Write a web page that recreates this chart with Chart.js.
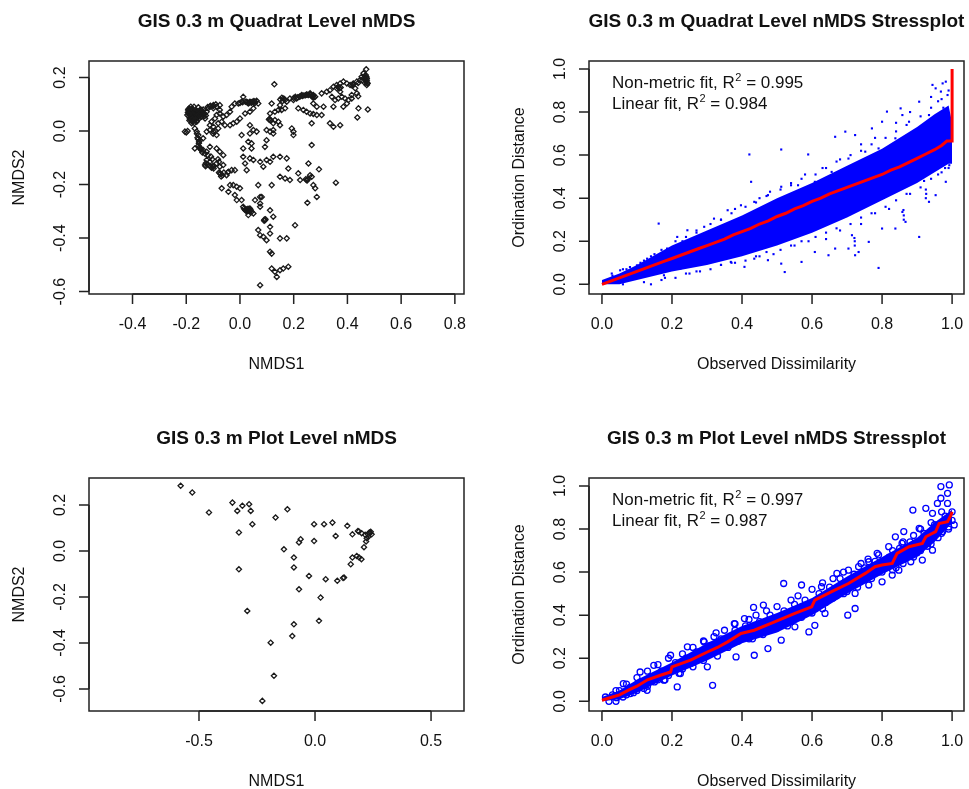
<!DOCTYPE html>
<html>
<head>
<meta charset="utf-8">
<script src="https://cdn.jsdelivr.net/npm/chart.js@4.4.0/dist/chart.umd.min.js"></script>
<style>
  html, body { margin: 0; padding: 0; background: #fff; width: 969px; height: 789px; overflow: hidden; position: relative; }
  canvas { position: absolute; }
</style>
</head>
<body>
<canvas id="quadratNmds" width="500" height="417" style="left:0;top:0"></canvas>
<canvas id="quadratStress" width="500" height="417" style="left:500px;top:0"></canvas>
<canvas id="plotNmds" width="500" height="417" style="left:0;top:417px"></canvas>
<canvas id="plotStress" width="500" height="417" style="left:500px;top:417px"></canvas>
<script>
// ---- data ----

// quadrat level site scores [NMDS1, NMDS2]
const quadratPoints = [
  [-0.193,0.079],[-0.186,0.066],[-0.180,0.072],[-0.174,0.079],[-0.168,0.060],[-0.161,0.072],[-0.155,0.066],
  [-0.149,0.079],[-0.143,0.054],[-0.137,0.060],[-0.130,0.047],[-0.186,0.047],[-0.174,0.041],[-0.161,0.035],
  [-0.180,0.029],[-0.124,0.072],[-0.118,0.085],[-0.112,0.091],[-0.099,0.085],[-0.087,0.091],[-0.075,0.097],
  [-0.106,0.035],[-0.093,0.047],[-0.087,0.060],[-0.075,0.066],[-0.062,0.054],[-0.050,0.060],[-0.037,0.072],
  [-0.031,0.091],[-0.019,0.103],[-0.006,0.103],[0.006,0.110],[0.012,0.128],[0.025,0.110],[0.037,0.110],
  [0.056,0.110],[0.068,0.103],[0.050,0.085],[0.037,0.072],[0.019,0.066],[0.000,0.047],[-0.012,0.035],
  [-0.025,0.029],[-0.037,0.022],[-0.056,0.022],[-0.068,0.035],[-0.081,0.029],[-0.099,0.016],[-0.112,0.022],
  [-0.189,0.085],[-0.183,0.091],[-0.171,0.091],[-0.155,0.089],[-0.143,0.079],[-0.137,0.081],[-0.168,0.051],
  [-0.152,0.047],[-0.196,0.060],[-0.177,0.066],[0.031,0.103],[0.043,0.106],[0.062,0.113],[-0.099,0.097],
  [-0.075,0.079],
  [-0.190,0.070],[-0.185,0.075],[-0.178,0.083],[-0.172,0.070],[-0.165,0.080],[-0.158,0.062],[-0.150,0.070],
  [-0.145,0.062],[-0.140,0.070],[-0.132,0.066],[-0.127,0.058],[-0.190,0.055],[-0.183,0.052],[-0.176,0.058],
  [-0.170,0.050],[-0.163,0.045],[-0.157,0.052],[-0.150,0.058],[-0.188,0.040],[-0.178,0.035],[-0.170,0.030],
  [-0.160,0.040],
  [-0.192,0.082],[-0.188,0.078],[-0.184,0.080],[-0.181,0.076],[-0.176,0.075],[-0.172,0.078],[-0.168,0.072],
  [-0.164,0.070],[-0.160,0.066],[-0.156,0.070],[-0.152,0.074],[-0.147,0.068],[-0.142,0.065],[-0.138,0.062],
  [-0.134,0.055],[-0.187,0.062],[-0.183,0.058],[-0.179,0.062],[-0.175,0.064],[-0.171,0.060],[-0.167,0.056],
  [-0.163,0.058],[-0.159,0.056],[-0.154,0.060],[-0.186,0.045],[-0.181,0.042],[-0.176,0.046],[-0.172,0.040],
  [-0.166,0.042],[-0.194,0.070],[-0.190,0.064],
  [0.028,0.107],[0.034,0.106],[0.046,0.110],[0.052,0.112],[0.232,0.131],[0.238,0.133],[0.244,0.134],
  [0.250,0.136],[-0.156,-0.030],[-0.153,-0.045],[-0.150,-0.060],[-0.147,-0.065],[-0.127,-0.120],
  [-0.120,-0.125],[-0.112,-0.130],[-0.106,-0.137],[0.024,-0.293],[0.033,-0.296],[0.040,-0.295],
  [0.466,0.195],[0.470,0.185],[0.471,0.202],[0.465,0.180],
  [-0.120,0.090],[-0.110,0.095],[-0.100,0.093],[-0.090,0.100],[0.000,0.105],[0.010,0.108],[0.020,0.110],
  [0.040,0.108],[0.050,0.108],[0.055,0.104],[0.150,0.118],[0.158,0.112],[0.165,0.120],[0.200,0.124],
  [0.215,0.126],[0.225,0.130],[0.255,0.135],[0.262,0.137],[0.270,0.130],[0.275,0.126],[0.440,0.180],
  [0.455,0.190],[0.462,0.200],[0.468,0.210],[0.472,0.190],[0.474,0.180],[0.360,0.160],[0.365,0.165],
  [0.420,0.175],[0.418,0.170],
  [-0.205,-0.002],[-0.168,0.010],[-0.161,-0.002],[-0.155,-0.015],[-0.149,-0.034],[-0.137,-0.027],[-0.124,-0.002],
  [-0.112,0.004],[-0.099,-0.002],[-0.087,-0.015],[-0.081,0.010],[-0.168,-0.065],[-0.149,-0.065],[-0.137,-0.071],
  [-0.124,-0.077],[-0.112,-0.059],[-0.087,-0.065],[-0.075,-0.077],[-0.062,-0.090],[-0.124,-0.108],[-0.112,-0.115],
  [-0.099,-0.133],[-0.087,-0.121],[-0.075,-0.133],[-0.062,-0.127],[-0.075,-0.158],[-0.043,-0.152],[-0.031,-0.146],
  [-0.019,-0.146],[-0.050,-0.165],[-0.037,-0.202],[-0.025,-0.202],[-0.012,-0.208],[0.000,-0.214],[-0.068,-0.214],
  [-0.043,-0.227],[-0.019,-0.239],[-0.012,-0.258],[0.006,-0.258],[0.012,-0.283],[0.025,-0.296],[0.037,-0.289],
  [0.043,-0.302],[0.031,-0.314],[0.050,-0.308],[0.056,-0.258],[0.075,-0.246],[0.075,-0.283],[0.093,-0.333],
  [0.112,-0.296],[0.124,-0.320],[0.068,-0.370],[0.075,-0.389],[0.087,-0.395],[0.099,-0.408],[0.112,-0.358],
  [0.112,-0.383],[0.149,-0.401],[0.174,-0.401],[0.112,-0.451],[0.118,-0.458],[0.118,-0.514],[0.130,-0.526],
  [0.137,-0.545],[0.149,-0.520],[0.161,-0.514],[0.180,-0.507],[0.075,-0.576],[0.205,-0.352],
  [-0.130,-0.127],[-0.128,-0.131],[-0.078,-0.155],[-0.072,-0.160],[0.021,-0.297],[0.027,-0.300],[0.091,-0.331],
  [-0.160,-0.010],[-0.158,-0.025],[-0.152,-0.040],[-0.155,-0.055],[-0.145,-0.070],[-0.140,-0.080],[-0.130,-0.085],
  [-0.120,-0.090],[-0.108,-0.095],[-0.103,-0.105],[-0.100,-0.130],[-0.098,-0.140],[-0.082,-0.105],[-0.078,-0.115],
  [-0.070,-0.170],[-0.065,-0.165],[-0.060,-0.155],[-0.045,-0.155],[-0.100,-0.010],[-0.092,0.000],
  [0.020,-0.295],[0.030,-0.290],[0.035,-0.300],[0.015,-0.290],[0.090,-0.335],[0.095,-0.330],[0.245,-0.180],
  [0.250,-0.185],[0.110,0.045],[0.115,0.040],[-0.200,-0.005],[-0.195,0.000],
  [0.037,0.022],[0.050,0.004],[0.037,-0.009],[0.062,-0.002],[0.006,-0.015],[0.031,-0.040],[0.043,-0.046],
  [0.099,-0.034],[0.093,-0.059],[0.112,-0.002],[0.124,0.004],[0.124,0.029],[0.112,0.041],[0.108,0.043],
  [0.130,0.041],[0.143,0.035],[0.149,0.022],[0.118,0.103],[0.112,0.066],[0.130,0.072],[0.143,0.079],
  [0.155,0.079],[0.168,0.085],[0.149,0.097],[0.174,0.110],[0.186,0.122],[0.199,0.116],[0.211,0.122],
  [0.230,0.135],[0.248,0.137],[0.261,0.141],[0.273,0.135],[0.280,0.128],[0.161,0.122],[0.168,0.116],
  [0.156,0.125],[0.206,0.128],[0.221,0.128],[0.266,0.132],[0.270,0.127],
  [0.217,0.085],[0.236,0.079],[0.248,0.072],[0.261,0.066],[0.273,0.064],[0.286,0.060],[0.304,0.060],
  [0.286,0.091],[0.311,0.091],[0.273,0.103],[0.304,0.141],[0.323,0.147],[0.335,0.153],[0.348,0.166],
  [0.360,0.172],[0.373,0.178],[0.385,0.185],[0.398,0.178],[0.410,0.172],[0.422,0.178],[0.435,0.185],
  [0.447,0.191],[0.453,0.203],[0.460,0.216],[0.470,0.231],[0.472,0.197],[0.472,0.172],[0.468,0.205],
  [0.342,0.128],[0.354,0.116],[0.366,0.122],[0.379,0.128],[0.391,0.122],[0.404,0.116],[0.416,0.122],
  [0.385,0.091],[0.398,0.103],[0.416,0.135],[0.435,0.141],[0.429,0.160],[0.335,0.029],[0.348,0.016],
  [0.373,0.022],[0.437,0.051],[0.441,0.085],[0.476,0.081],[0.373,0.147],[0.348,0.091],[0.128,0.175],
  [0.370,0.160],[0.375,0.163],[0.440,0.130],[0.475,0.178],
  [0.124,-0.009],[0.099,-0.108],[0.124,-0.096],[0.149,-0.096],[0.174,-0.102],[0.075,-0.115],[0.087,-0.133],
  [0.112,-0.115],[0.180,-0.140],[0.149,-0.171],[0.168,-0.177],[0.186,-0.183],[0.217,-0.158],[0.224,-0.183],
  [0.248,-0.183],[0.252,-0.180],[0.261,-0.165],[0.255,-0.121],[0.267,-0.171],[0.273,-0.202],[0.280,-0.214],
  [0.286,-0.246],[0.294,-0.143],[0.251,-0.268],[0.357,-0.193],[0.068,-0.202],[0.118,-0.202],[0.081,-0.246],
  [0.075,-0.271],[0.025,-0.146],[0.037,-0.102],[0.050,-0.108],[0.012,-0.096],[0.019,-0.121],[0.012,-0.065],
  [0.043,-0.065],[0.099,0.004],[0.193,0.010],[0.199,-0.002],[0.199,-0.015],[0.267,-0.052],[0.267,0.029]
];

// plot level site scores [NMDS1, NMDS2]
const plotPoints = [
  [-0.579,0.283],[-0.529,0.254],[-0.457,0.167],[-0.356,0.210],[-0.335,0.174],[-0.313,0.196],[-0.284,0.203],
  [-0.277,0.174],[-0.270,0.116],[-0.328,0.080],[-0.328,-0.080],[-0.292,-0.261],[-0.170,0.145],[-0.119,0.181],
  [-0.134,0.007],[-0.091,-0.029],[-0.091,-0.072],[-0.069,0.037],[-0.062,0.051],[-0.004,0.116],[-0.004,0.043],
  [0.039,0.116],[0.075,0.123],[0.089,0.065],[0.139,0.109],[0.161,0.072],[0.185,0.087],[0.189,0.084],
  [0.201,0.077],[0.216,0.070],[0.223,0.055],[0.220,0.041],[0.211,0.016],[0.234,0.080],[0.240,0.083],
  [0.244,0.072],[0.230,0.062],[0.236,0.076],[0.228,0.072],[0.161,-0.029],[0.180,-0.022],[0.190,-0.029],
  [0.200,-0.036],[0.154,-0.058],[0.125,-0.116],[0.121,-0.118],[0.096,-0.130],[0.046,-0.123],[-0.026,-0.109],
  [-0.069,-0.167],[0.024,-0.203],[0.017,-0.304],[-0.091,-0.319],[-0.098,-0.370],[-0.191,-0.399],
  [-0.177,-0.543],[-0.227,-0.652]
];

// quadrat stressplot: dense band of observed vs ordination distances
const quadratBandX     = [0, 0.05, 0.1, 0.2, 0.3, 0.4, 0.5, 0.6, 0.7, 0.8, 0.9, 0.95, 0.99, 1.0];
const quadratBandUpper = [0.02, 0.05, 0.09, 0.18, 0.25, 0.32, 0.40, 0.47, 0.55, 0.63, 0.73, 0.79, 0.83, 0.75];
const quadratBandLower = [0, 0, 0.02, 0.06, 0.09, 0.13, 0.18, 0.24, 0.31, 0.39, 0.47, 0.52, 0.56, 0.56];

// quadrat stressplot: scattered distances around the dense band
const quadratScatter = [
  [0.162,0.282],[0.421,0.603],[0.512,0.626],[0.426,0.476],[0.589,0.603],[0.666,0.685],[0.695,0.709],
  [0.723,0.693],[0.771,0.724],[0.800,0.755],[0.814,0.802],[0.853,0.817],[0.858,0.786],[0.906,0.848],
  [0.944,0.926],[0.953,0.910],[0.968,0.895],[0.973,0.933],[0.982,0.941],[0.987,0.879],[0.934,0.786],
  [0.877,0.755],[0.838,0.678],[0.790,0.631],[0.752,0.616],[0.704,0.584],[0.656,0.522],[0.608,0.476],
  [0.560,0.460],[0.512,0.453],[0.474,0.414],[0.435,0.383],[0.397,0.367],[0.359,0.344],[0.320,0.305],
  [0.292,0.267],[0.244,0.251],[0.215,0.220],[0.186,0.166],[0.129,0.119],[0.100,0.088],[0.052,0.065],
  [0.028,0.050],[0.407,0.081],[0.435,0.119],[0.474,0.112],[0.512,0.096],[0.522,0.057],[0.570,0.104],
  [0.608,0.150],[0.647,0.135],[0.666,0.166],[0.704,0.166],[0.714,0.228],[0.723,0.135],[0.733,0.150],
  [0.762,0.197],[0.790,0.076],[0.800,0.259],[0.838,0.259],[0.858,0.336],[0.867,0.290],[0.906,0.220],
  [0.934,0.383],[0.953,0.414],[0.982,0.476],[0.992,0.553],[0.292,0.150],[0.330,0.135],[0.368,0.104],
  [0.224,0.073],[0.177,0.042],[0.722,0.180],[0.722,0.200],[0.721,0.215],[0.862,0.300],[0.862,0.320],
  [0.861,0.345],[0.925,0.400],[0.926,0.420],[0.925,0.440],[0.980,0.700],[0.990,0.760],[0.975,0.820],
  [0.960,0.850],[0.940,0.870],[0.880,0.800],[0.840,0.750],[0.780,0.680],[0.740,0.650],[0.680,0.580],
  [0.630,0.540],[0.580,0.510],[0.540,0.470],[0.480,0.430],[0.450,0.400],[0.380,0.350],[0.340,0.300],
  [0.270,0.240],[0.230,0.200],[0.150,0.140],[0.120,0.110],[0.080,0.080],[0.060,0.070],
  [0.060,0.000],[0.120,0.010],[0.180,0.030],[0.250,0.050],[0.280,0.060],[0.340,0.090],[0.380,0.100],
  [0.450,0.130],[0.490,0.140],[0.550,0.180],[0.590,0.200],[0.640,0.210],[0.680,0.250],[0.740,0.280],
  [0.780,0.330],[0.820,0.350],[0.880,0.420],[0.920,0.480],[0.960,0.510],[0.990,0.570],[0.980,0.540],
  [0.03,0.04],[0.07,0.07],[0.11,0.10],[0.14,0.13],[0.17,0.16],[0.21,0.20],[0.24,0.22],[0.27,0.25],
  [0.31,0.28],[0.34,0.30],[0.37,0.33],[0.41,0.36],[0.44,0.38],[0.47,0.41],[0.51,0.44],[0.54,0.46],
  [0.57,0.49],[0.61,0.51],[0.64,0.54],[0.67,0.57],[0.71,0.60],[0.74,0.62],[0.77,0.65],[0.81,0.68],
  [0.84,0.71],[0.87,0.74],[0.91,0.78],[0.94,0.82],[0.97,0.86],[0.99,0.90],
  [0.14,0.00],[0.17,0.02],[0.21,0.03],[0.24,0.05],[0.27,0.06],[0.31,0.07],[0.34,0.09],[0.37,0.10],
  [0.41,0.11],[0.44,0.13],[0.47,0.15],[0.51,0.16],[0.54,0.18],[0.57,0.20],[0.61,0.22],[0.64,0.24],
  [0.67,0.26],[0.71,0.28],[0.74,0.31],[0.77,0.33],[0.81,0.36],[0.84,0.39],[0.87,0.42],[0.91,0.45],
  [0.94,0.49],[0.97,0.52],[0.99,0.54]
];

// quadrat stressplot: monotone (non-metric) fit
const quadratFit = [
  [0,0],[0.025,0.015],[0.05,0.03],[0.075,0.045],[0.1,0.06],[0.125,0.075],[0.15,0.09],[0.175,0.105],
  [0.2,0.12],[0.225,0.135],[0.25,0.15],[0.275,0.165],[0.3,0.18],[0.325,0.195],[0.35,0.21],[0.375,0.23],
  [0.4,0.245],[0.425,0.26],[0.45,0.28],[0.475,0.295],[0.5,0.315],[0.525,0.33],[0.55,0.35],[0.575,0.365],
  [0.6,0.385],[0.625,0.4],[0.65,0.42],[0.675,0.435],[0.7,0.45],[0.725,0.465],[0.75,0.48],[0.775,0.495],
  [0.8,0.51],[0.825,0.53],[0.85,0.545],[0.875,0.565],[0.9,0.585],[0.925,0.605],[0.95,0.625],[0.97,0.645],
  [0.985,0.665],[1.0,0.665],[1.0,1.0]
];

// plot stressplot: dense core of the circles
const plotBandX     = [0, 0.05, 0.1, 0.2, 0.3, 0.4, 0.5, 0.6, 0.7, 0.8, 0.9, 0.95, 1.0];
const plotBandUpper = [0.02, 0.05, 0.10, 0.18, 0.27, 0.35, 0.41, 0.48, 0.58, 0.67, 0.76, 0.83, 0.89];
const plotBandLower = [0, 0.01, 0.04, 0.12, 0.19, 0.27, 0.32, 0.40, 0.50, 0.59, 0.67, 0.74, 0.83];

// plot stressplot: individual distances (open circles)
const plotScatter = [
  [0.968,0.997],[0.992,1.005],[0.987,0.966],[0.968,0.943],[0.987,0.919],[0.958,0.919],[0.888,0.888],
  [0.925,0.896],[0.944,0.873],[0.906,0.803],[0.862,0.788],[0.838,0.764],[0.857,0.733],[0.819,0.718],
  [0.786,0.687],[0.762,0.648],[0.733,0.625],[0.704,0.609],[0.671,0.594],[0.627,0.532],[0.570,0.540],
  [0.519,0.547],[0.461,0.447],[0.433,0.436],[0.407,0.384],[0.378,0.361],[0.326,0.318],[0.292,0.276],
  [0.244,0.253],[0.196,0.214],[0.148,0.167],[0.109,0.136],[0.061,0.082],
  [1.006,0.819],[0.973,0.788],[0.944,0.702],[0.915,0.656],[0.882,0.648],[0.848,0.609],[0.829,0.586],
  [0.800,0.555],[0.762,0.540],[0.723,0.501],[0.702,0.400],[0.723,0.431],[0.637,0.408],[0.608,0.353],
  [0.591,0.322],[0.551,0.346],[0.512,0.284],[0.474,0.245],[0.435,0.214],[0.383,0.206],[0.349,0.253],
  [0.316,0.074],[0.301,0.160],[0.253,0.175],[0.215,0.067],[0.224,0.129],[0.177,0.098],[0.129,0.051],
  [0.081,0.036],[0.042,0.017],
  [0.01,0.02],[0.02,0.0],[0.03,0.03],[0.05,0.05],[0.06,0.02],[0.08,0.065],[0.09,0.04],[0.11,0.09],
  [0.12,0.06],[0.14,0.115],[0.15,0.09],[0.17,0.14],[0.18,0.10],[0.21,0.18],[0.22,0.13],[0.24,0.20],
  [0.26,0.16],[0.27,0.23],[0.29,0.19],[0.31,0.26],[0.33,0.21],[0.34,0.29],[0.36,0.25],[0.38,0.33],
  [0.39,0.28],[0.41,0.35],[0.43,0.29],[0.45,0.37],[0.46,0.31],[0.48,0.40],[0.50,0.34],[0.52,0.42],
  [0.53,0.35],[0.55,0.45],[0.57,0.39],[0.58,0.47],[0.60,0.41],[0.62,0.50],[0.63,0.43],[0.65,0.53],
  [0.67,0.49],[0.68,0.57],[0.70,0.51],[0.72,0.59],[0.73,0.53],[0.75,0.62],[0.77,0.57],[0.78,0.65],
  [0.80,0.60],[0.82,0.67],[0.83,0.61],[0.85,0.71],[0.86,0.66],[0.88,0.74],[0.90,0.69],[0.92,0.78],
  [0.93,0.72],[0.95,0.82],[0.96,0.76],[0.98,0.86],[0.99,0.81],[1.0,0.88],[1.0,0.84],
  [0.04,0.05],[0.07,0.08],[0.10,0.11],[0.13,0.14],[0.16,0.17],[0.19,0.20],[0.23,0.22],[0.26,0.25],
  [0.29,0.28],[0.32,0.30],[0.35,0.33],[0.38,0.36],[0.42,0.38],[0.44,0.40],[0.47,0.42],[0.50,0.44],
  [0.54,0.47],[0.56,0.49],[0.60,0.52],[0.63,0.55],[0.66,0.57],[0.69,0.60],[0.74,0.64],[0.76,0.66],
  [0.79,0.68],[0.83,0.70],[0.86,0.74],[0.89,0.77],[0.91,0.80],[0.94,0.83],[0.97,0.88],
  [0.04,0.00],[0.07,0.03],[0.10,0.05],[0.13,0.07],[0.16,0.10],[0.19,0.12],[0.23,0.15],[0.26,0.18],
  [0.28,0.20],[0.32,0.23],[0.35,0.25],[0.37,0.27],[0.42,0.29],[0.44,0.31],[0.47,0.33],[0.49,0.34],
  [0.54,0.37],[0.56,0.39],[0.61,0.43],[0.64,0.46],[0.66,0.48],[0.69,0.50],[0.74,0.56],[0.76,0.58],
  [0.79,0.60],[0.84,0.62],[0.86,0.64],[0.89,0.67],[0.91,0.70],[0.94,0.73],[0.97,0.78],[0.99,0.80]
];

// plot stressplot: monotone (non-metric) fit
const plotFit = [
  [0,0.005],[0.03,0.02],[0.05,0.03],[0.08,0.055],[0.1,0.07],[0.13,0.1],[0.167,0.121],[0.196,0.136],
  [0.2,0.16],[0.253,0.191],[0.301,0.229],[0.33,0.25],[0.359,0.276],[0.397,0.315],[0.435,0.33],
  [0.493,0.369],[0.551,0.408],[0.599,0.439],[0.608,0.47],[0.656,0.509],[0.704,0.547],[0.752,0.594],
  [0.78,0.625],[0.8,0.633],[0.829,0.64],[0.843,0.687],[0.877,0.718],[0.915,0.733],[0.925,0.764],
  [0.953,0.788],[0.963,0.826],[0.987,0.834],[0.997,0.865],[1.0,0.88]
];

// axis ticks
const quadratXTicks = [-0.4, -0.2, 0.0, 0.2, 0.4, 0.6, 0.8];
const nmdsYTicks    = [-0.6, -0.4, -0.2, 0.0, 0.2];
const plotXTicks    = [-0.5, 0.0, 0.5];
const stressTicks   = [0.0, 0.2, 0.4, 0.6, 0.8, 1.0];

const quadratFitText = ['Non-metric fit, R', '2', ' = 0.995', 'Linear fit, R', '2', ' = 0.984'];
const plotFitText    = ['Non-metric fit, R', '2', ' = 0.997', 'Linear fit, R', '2', ' = 0.987'];

// ---- R base-graphics look: box, outward ticks, rotated y labels ----
const FONT = '"Liberation Sans", Arial, sans-serif';
const INK = '#111';

const rStyleAxes = {
  id: 'rStyleAxes',
  afterDraw(chart, args, opts) {
    const ctx = chart.ctx;
    const a = chart.chartArea;
    const xs = chart.scales.x, ys = chart.scales.y;
    const cx = (a.left + a.right) / 2, cy = (a.top + a.bottom) / 2;

    ctx.save();
    ctx.strokeStyle = '#222';
    ctx.lineWidth = 1.5;
    ctx.strokeRect(a.left, a.top, a.right - a.left, a.bottom - a.top);

    // x axis
    const xp = opts.xTicks.map(v => xs.getPixelForValue(v));
    ctx.beginPath();
    ctx.moveTo(xp[0], a.bottom);
    ctx.lineTo(xp[xp.length - 1], a.bottom);
    xp.forEach(p => { ctx.moveTo(p, a.bottom); ctx.lineTo(p, a.bottom + 10); });
    // y axis
    const yp = opts.yTicks.map(v => ys.getPixelForValue(v));
    ctx.moveTo(a.left, yp[0]);
    ctx.lineTo(a.left, yp[yp.length - 1]);
    yp.forEach(p => { ctx.moveTo(a.left, p); ctx.lineTo(a.left - 10, p); });
    ctx.stroke();

    ctx.fillStyle = INK;
    ctx.font = '16px ' + FONT;
    ctx.textAlign = 'center';
    ctx.textBaseline = 'middle';
    opts.xTicks.forEach((v, i) => ctx.fillText(v.toFixed(1), xp[i], a.bottom + 31));
    opts.yTicks.forEach((v, i) => {
      ctx.save();
      ctx.translate(a.left - 28, yp[i]);
      ctx.rotate(-Math.PI / 2);
      ctx.fillText(v.toFixed(1), 0, 0);
      ctx.restore();
    });

    // axis titles
    ctx.fillText(opts.xLabel, cx, a.bottom + 71);
    ctx.save();
    ctx.translate(a.left - 69, cy);
    ctx.rotate(-Math.PI / 2);
    ctx.fillText(opts.yLabel, 0, 0);
    ctx.restore();

    // main title
    ctx.font = 'bold 19px ' + FONT;
    ctx.fillText(opts.title, cx, 22);

    // fit statistics
    if (opts.notes) {
      ctx.textAlign = 'left';
      ctx.textBaseline = 'alphabetic';
      for (let line = 0; line < 2; line++) {
        const [main, sup, rest] = opts.notes.slice(line * 3, line * 3 + 3);
        const base = a.top + 27 + line * 21;
        let x = a.left + 23;
        ctx.font = '17px ' + FONT;
        ctx.fillText(main, x, base);
        x += ctx.measureText(main).width + 0.5;
        ctx.font = '11px ' + FONT;
        ctx.fillText(sup, x, base - 7);
        x += ctx.measureText(sup).width;
        ctx.font = '17px ' + FONT;
        ctx.fillText(rest, x, base);
      }
    }
    ctx.restore();
  }
};

function scaleOpts(min, max, fit) {
  return {
    type: 'linear', min: min, max: max,
    grid: { display: false }, border: { display: false },
    ticks: { display: false }, title: { display: false },
    afterFit: fit
  };
}

function makeChart(id, datasets, xRange, yRange, axes) {
  return new Chart(document.getElementById(id), {
    type: 'scatter',
    data: { datasets: datasets },
    options: {
      responsive: false,
      animation: false,
      events: [],
      layout: { autoPadding: false, padding: { top: 61, right: 36, bottom: 0, left: 0 } },
      scales: {
        x: scaleOpts(xRange[0], xRange[1], s => { s.height = 123; }),
        y: scaleOpts(yRange[0], yRange[1], s => { s.width = 89; })
      },
      plugins: { legend: { display: false }, tooltip: { enabled: false }, rStyleAxes: axes }
    },
    plugins: [rStyleAxes]
  });
}

const toXY = pts => pts.map(p => ({ x: p[0], y: p[1] }));
const bandXY = (xs, ys) => xs.map((x, i) => ({ x: x, y: ys[i] }));

const nmdsStyle = {
  pointStyle: 'rectRot', pointRadius: 2.6, borderWidth: 1.3,
  borderColor: '#1a1a1a', backgroundColor: 'rgba(0,0,0,0)'
};

// top left: quadrat nMDS
makeChart('quadratNmds',
  [Object.assign({ data: toXY(quadratPoints) }, nmdsStyle)],
  [-0.562, 0.834], [-0.609, 0.262],
  { title: 'GIS 0.3 m Quadrat Level nMDS', xLabel: 'NMDS1', yLabel: 'NMDS2',
    xTicks: quadratXTicks, yTicks: nmdsYTicks });

// bottom left: plot nMDS
makeChart('plotNmds',
  [Object.assign({ data: toXY(plotPoints) }, nmdsStyle)],
  [-0.974, 0.642], [-0.696, 0.317],
  { title: 'GIS 0.3 m Plot Level nMDS', xLabel: 'NMDS1', yLabel: 'NMDS2',
    xTicks: plotXTicks, yTicks: nmdsYTicks });

// top right: quadrat stressplot
makeChart('quadratStress', [
  { data: toXY(quadratFit), showLine: true, borderColor: '#ff0000',
    borderWidth: 3, pointRadius: 0, order: 0 },
  { data: toXY(quadratScatter), pointStyle: 'rect', pointRadius: 1.5, borderWidth: 0,
    backgroundColor: '#0000ff', order: 1 },
  { data: bandXY(quadratBandX, quadratBandLower), showLine: true, borderWidth: 0, pointRadius: 0,
    borderColor: '#0000ff', fill: false, order: 2 },
  { data: bandXY(quadratBandX, quadratBandUpper), showLine: true, borderWidth: 0, pointRadius: 0,
    borderColor: '#0000ff', backgroundColor: '#0000ff', fill: '-1', order: 2 }
], [-0.037, 1.034], [-0.045, 1.037],
  { title: 'GIS 0.3 m Quadrat Level nMDS Stressplot', xLabel: 'Observed Dissimilarity',
    yLabel: 'Ordination Distance', xTicks: stressTicks, yTicks: stressTicks, notes: quadratFitText });

// bottom right: plot stressplot
makeChart('plotStress', [
  { data: toXY(plotFit), showLine: true, borderColor: '#ff0000',
    borderWidth: 3, pointRadius: 0, order: 0 },
  { data: toXY(plotScatter), pointStyle: 'circle', pointRadius: 3, borderWidth: 1.3,
    borderColor: '#0000ff', backgroundColor: 'rgba(0,0,0,0)', order: 1 },
  { data: bandXY(plotBandX, plotBandLower), showLine: true, borderWidth: 0, pointRadius: 0,
    borderColor: '#0000ff', fill: false, order: 2 },
  { data: bandXY(plotBandX, plotBandUpper), showLine: true, borderWidth: 0, pointRadius: 0,
    borderColor: '#0000ff', backgroundColor: '#0000ff', fill: '-1', order: 2 }
], [-0.037, 1.034], [-0.045, 1.037],
  { title: 'GIS 0.3 m Plot Level nMDS Stressplot', xLabel: 'Observed Dissimilarity',
    yLabel: 'Ordination Distance', xTicks: stressTicks, yTicks: stressTicks, notes: plotFitText });
</script>
</body>
</html>
